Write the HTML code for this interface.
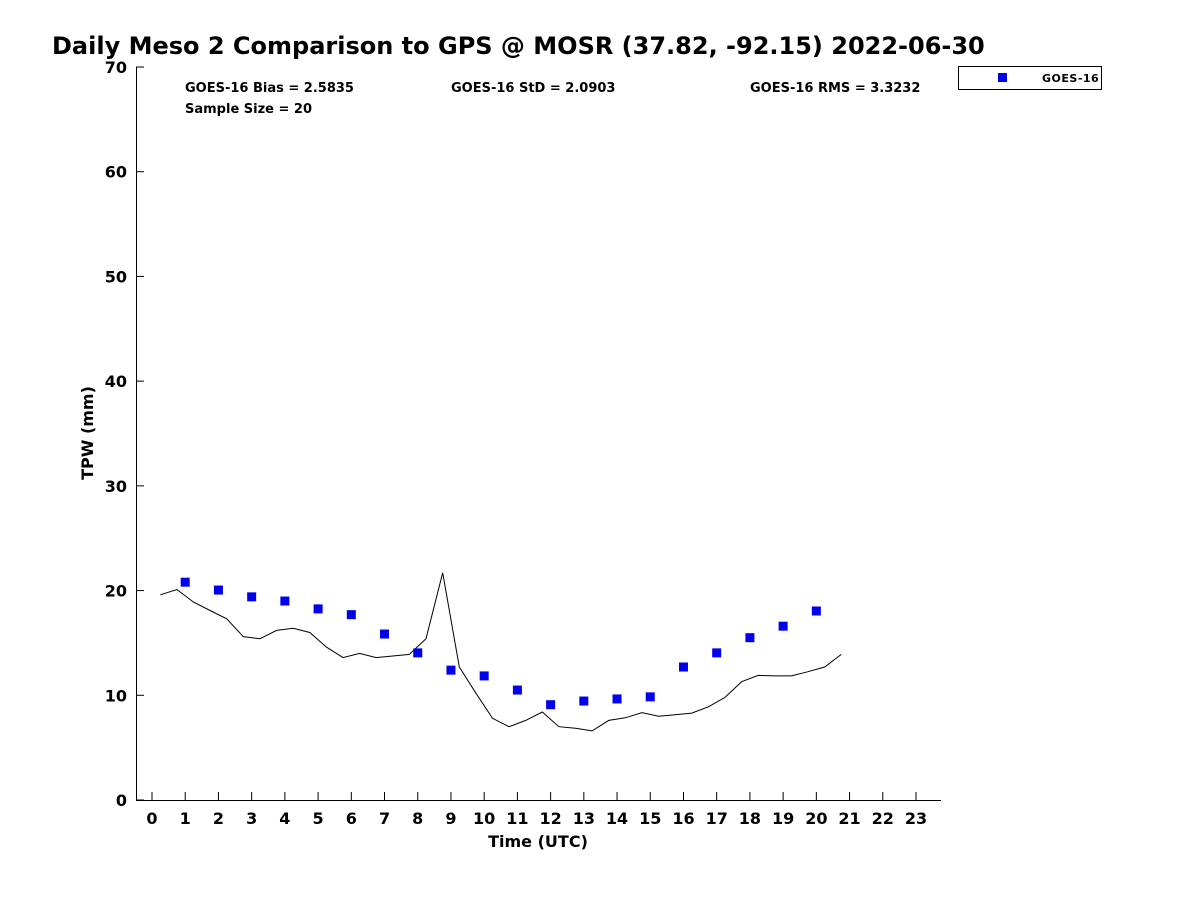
<!DOCTYPE html>
<html><head><meta charset="utf-8"><style>
body{margin:0;background:#fff;}
svg text{font-family:"DejaVu Sans","Liberation Sans",sans-serif;font-weight:bold;fill:#000;}
</style></head><body>
<svg id="chart" width="1200" height="900" xmlns="http://www.w3.org/2000/svg">
<rect width="1200" height="900" fill="#fff"/>
<text x="52" y="54" font-size="24">Daily Meso 2 Comparison to GPS @ MOSR (37.82, -92.15) 2022-06-30</text>
<g id="axes"></g>
<g id="marks"></g>
<text x="185" y="92" font-size="13">GOES-16 Bias = 2.5835</text>
<text x="451" y="92" font-size="13">GOES-16 StD = 2.0903</text>
<text x="750" y="92" font-size="13">GOES-16 RMS = 3.3232</text>
<text x="185" y="113" font-size="13">Sample Size = 20</text>
<g>
<rect x="958.5" y="66.5" width="143" height="23" fill="#fff" stroke="#000" stroke-width="1"/>
<rect x="998" y="73" width="9" height="9" fill="#0000ee"/>
<text x="1042" y="82" font-size="11" letter-spacing="0.5">GOES-16</text>
</g>
<text transform="translate(93,433) rotate(-90)" font-size="16" text-anchor="middle">TPW (mm)</text>
<text x="538" y="847" font-size="16" text-anchor="middle">Time (UTC)</text>
</svg>
<script>
const gpsTimes=[0.25,0.75,1.25,1.75,2.25,2.75,3.25,3.75,4.25,4.75,5.25,5.75,6.25,6.75,7.25,7.75,8.25,8.75,9.25,9.75,10.25,10.75,11.25,11.75,12.25,12.75,13.25,13.75,14.25,14.75,15.25,15.75,16.25,16.75,17.25,17.75,18.25,18.75,19.25,19.75,20.25,20.75];
const gpsValues=[19.6,20.1,18.9,18.1,17.3,15.6,15.4,16.2,16.4,16.0,14.6,13.6,14.0,13.6,13.75,13.9,15.4,21.7,12.7,10.2,7.8,7.0,7.6,8.4,7.0,6.85,6.6,7.6,7.85,8.35,8.0,8.15,8.3,8.9,9.8,11.3,11.9,11.85,11.85,12.25,12.7,13.9];
const goesHours=[1,2,3,4,5,6,7,8,9,10,11,12,13,14,15,16,17,18,19,20];
const goesValues=[20.8,20.05,19.4,19.0,18.25,17.7,15.85,14.05,12.4,11.85,10.5,9.1,9.45,9.65,9.85,12.7,14.05,15.5,16.6,18.05];
const xTicks=[0,1,2,3,4,5,6,7,8,9,10,11,12,13,14,15,16,17,18,19,20,21,22,23];
const yTicks=[0,10,20,30,40,50,60,70];
const NS="http://www.w3.org/2000/svg";
const L=136,R=941,T=67,B=800;
function xs(v){return 152+(v)*(916-152)/23;}
function ys(v){return B-(v)*(B-T)/70;}
function mk(tag,attrs,parent){const e=document.createElementNS(NS,tag);for(const k in attrs)e.setAttribute(k,attrs[k]);parent.appendChild(e);return e;}
const ax=document.getElementById('axes'),mg=document.getElementById('marks');
let e=mk('line',{x1:L,y1:B+0.5,x2:R,y2:B+0.5,stroke:'#000'},ax);


e=mk('line',{x1:L+0.5,y1:T,x2:L+0.5,y2:B,stroke:'#000'},ax);


xTicks.forEach(t=>{const x=xs(t);
 mk('line',{x1:x,y1:B,x2:x,y2:B-8,stroke:'#000'},ax);
 const tx=mk('text',{x:x,y:B+24,'font-size':16,'text-anchor':'middle'},ax);tx.textContent=t;
 
 
});
yTicks.forEach(t=>{const y=ys(t);
 mk('line',{x1:L,y1:y,x2:L+8,y2:y,stroke:'#000'},ax);
 const tx=mk('text',{x:L-9,y:y+6,'font-size':16,'text-anchor':'end'},ax);tx.textContent=t;
 
 
});
const pts=gpsTimes.map((t,i)=>xs(t).toFixed(1)+','+ys(gpsValues[i]).toFixed(1)).join(' ');
const pl=mk('polyline',{points:pts,fill:'none',stroke:'#000','stroke-width':1},mg);


goesHours.forEach((h,i)=>{
 const r=mk('rect',{x:xs(h)-4.5,y:ys(goesValues[i])-4.5,width:9,height:9,fill:'#0000ee'},mg);
 
 
});
</script>
</body></html>
